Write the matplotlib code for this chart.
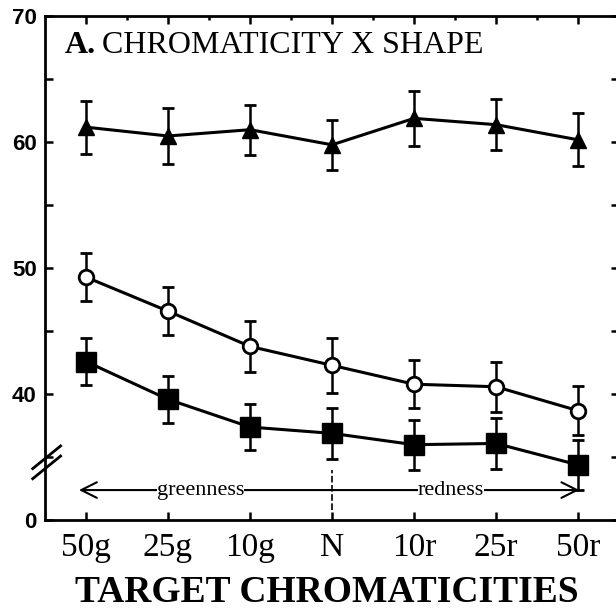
import matplotlib
matplotlib.use('Agg')
import matplotlib.pyplot as plt
import numpy as np

# target chromaticities
cats = ['50g', '25g', '10g', 'N', '10r', '25r', '50r']

# triangles (top series)
tri = [61.2, 60.5, 61.0, 59.8, 61.9, 61.4, 60.2]
tri_err = [2.1, 2.2, 2.0, 2.0, 2.2, 2.0, 2.1]
# open circles
circ = [49.3, 46.6, 43.8, 42.3, 40.8, 40.6, 38.7]
circ_err = [1.9, 1.9, 2.0, 2.2, 1.9, 2.0, 1.95]
# filled squares
sq = [42.6, 39.6, 37.4, 36.9, 36.0, 36.1, 34.4]
sq_err = [1.9, 1.85, 1.85, 2.05, 2.0, 2.0, 2.0]

# y axis is broken: bottom of axis labelled 0 stands for 30
ytick_vals = [30, 40, 50, 60, 70]
ytick_labels = ['0', '40', '50', '60', '70']

fig = plt.figure(figsize=(6.16, 6.12), dpi=100)
ax = fig.add_axes([45/616, 91.7/612, 574/616, 504/612])
x = np.arange(len(cats))

ekw = dict(color='black', lw=2.2, capsize=4, capthick=2, elinewidth=1.8)
ax.errorbar(x, tri, yerr=tri_err, marker='^', ms=11, mfc='black', mec='black', **ekw)
ax.errorbar(x, circ, yerr=circ_err, marker='o', ms=10.5, mfc='white', mec='black', mew=2, **ekw)
ax.errorbar(x, sq, yerr=sq_err, marker='s', ms=14, mfc='black', mec='black', **ekw)

ax.set_xlim(-0.5, 6.5)
ax.set_ylim(30, 70)
ax.set_xticks(x)
ax.set_xticklabels(cats, family='Liberation Serif', fontsize=24)
ax.set_xticks(x[:-1] + 0.5, minor=True)
ax.set_yticks(ytick_vals)
ax.set_yticklabels(ytick_labels, family='Liberation Sans', fontweight='bold', fontsize=16)
ax.set_yticks([35, 45, 55, 65], minor=True)
ax.tick_params(axis='both', which='both', direction='in', top=True, right=True, width=1.8)
ax.tick_params(axis='x', which='major', length=6, pad=9)
ax.tick_params(axis='x', which='minor', length=3, bottom=False)
ax.tick_params(axis='y', which='major', length=6, pad=6)
ax.tick_params(axis='y', which='minor', length=6)
for s in ['left', 'bottom', 'top']:
    ax.spines[s].set_linewidth(2)
ax.spines['right'].set_visible(False)

# break marks on the y axis
for dy in (0, 0.8):
    ax.plot([-0.65, -0.31], [33.3 + dy, 35.1 + dy], color='black', lw=2, clip_on=False)

# greenness / redness arrow
ax.annotate('', xy=(-0.12, 32.4), xytext=(6.05, 32.4),
            arrowprops=dict(arrowstyle='<->', color='black', lw=1.5, mutation_scale=28))
ax.plot([3, 3], [30.8, 34.0], color='black', lw=1.2, ls=(0, (4, 1.5)))
ax.text(1.4, 32.4, 'greenness', ha='center', va='center', family='Liberation Serif',
        fontsize=16, bbox=dict(fc='white', ec='none', pad=0))
ax.text(4.45, 32.4, 'redness', ha='center', va='center', family='Liberation Serif',
        fontsize=16, bbox=dict(fc='white', ec='none', pad=0))

ax.text(-0.26, 67.1, 'A.', family='Liberation Serif', fontweight='bold', fontsize=23, va='baseline')
ax.text(0.2, 67.1, 'CHROMATICITY X SHAPE', family='Liberation Serif', fontsize=23, va='baseline')

fig.text(0.53, 0.016, 'TARGET CHROMATICITIES', ha='center', va='baseline',
         family='Liberation Serif', fontweight='bold', fontsize=27)

fig.savefig('out.png', dpi=100)
